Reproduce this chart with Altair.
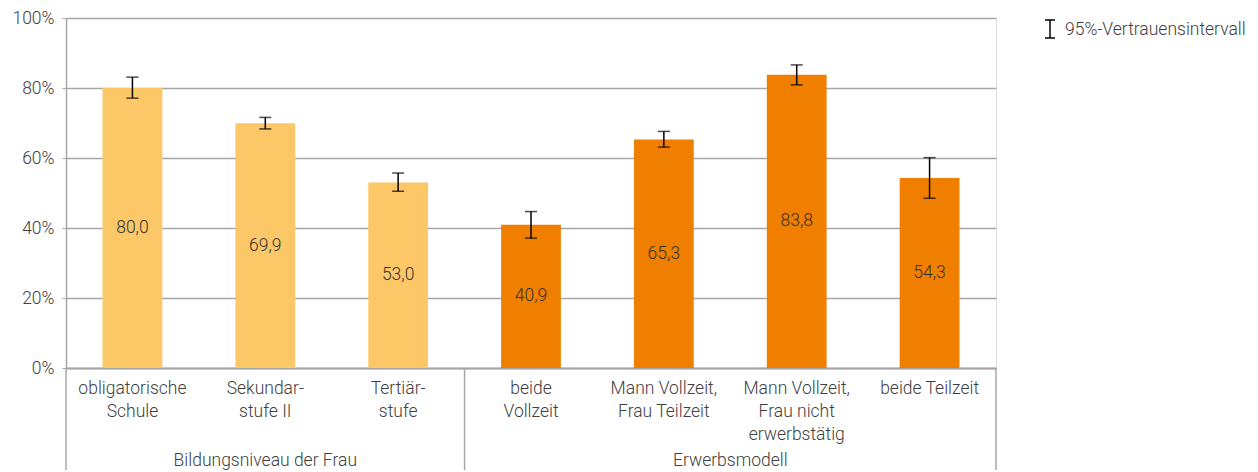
import altair as alt
import pandas as pd

categories = [
    "obligatorische|Schule",
    "Sekundar-|stufe II",
    "Tertiär-|stufe",
    "beide|Vollzeit",
    "Mann Vollzeit,|Frau Teilzeit",
    "Mann Vollzeit,|Frau nicht|erwerbstätig",
    "beide Teilzeit",
]
groups = ["Bildungsniveau der Frau"] * 3 + ["Erwerbsmodell"] * 4
values = [80.0, 69.9, 53.0, 40.9, 65.3, 83.8, 54.3]
ci_low = [77.1, 68.3, 50.5, 37.1, 63.1, 80.9, 48.5]
ci_high = [83.1, 71.6, 55.7, 44.7, 67.6, 86.6, 60.1]
group_names = ["Bildungsniveau der Frau", "Erwerbsmodell"]
group_start = [0, 3]
group_end = [3, 7]
legend_label = "95%-Vertrauensintervall"

FONT = "Roboto"
FS = 17.5
FW = 300
TXT = "#404040"
GRID = "#A6A6A6"

df = pd.DataFrame({
    "cat": categories,
    "group": groups,
    "value": values,
    "lo": ci_low,
    "hi": ci_high,
})
df["label"] = [f"{v:.1f}".replace(".", ",") for v in values]
df["half"] = df["value"] / 2

gdf = pd.DataFrame({"name": group_names, "start": group_start, "end": group_end})
gdf["mid"] = (gdf["start"] + gdf["end"]) / 2
bounds = pd.DataFrame({"pos": [0, 3, 7]})

xband = alt.X(
    "cat:N",
    sort=categories,
    scale=alt.Scale(paddingInner=0.55, paddingOuter=0.275),
    axis=alt.Axis(
        title=None,
        labelExpr="split(datum.value, '|')",
        labelAngle=0,
        labelFont=FONT,
        labelFontSize=FS,
        labelFontWeight=FW,
        labelColor=TXT,
        labelLineHeight=23,
        labelPadding=11,
        ticks=False,
        domainColor=GRID,
        domainWidth=2,
    ),
)
yscale = alt.Scale(domain=[0, 100])

base = alt.Chart(df)

bars = base.mark_bar().encode(
    x=xband,
    y=alt.Y(
        "value:Q",
        scale=yscale,
        axis=alt.Axis(
            title=None,
            values=[0, 20, 40, 60, 80, 100],
            labelExpr="datum.value + '%'",
            labelFont=FONT,
            labelFontSize=FS,
            labelFontWeight=FW,
            labelColor=TXT,
            labelPadding=8,
            tickSize=4,
            tickColor=GRID,
            gridColor=GRID,
            gridWidth=1.5,
            domainColor=GRID,
            domainWidth=1.5,
        ),
    ),
    color=alt.Color(
        "group:N",
        scale=alt.Scale(domain=group_names, range=["#FCC766", "#F07F00"]),
        legend=None,
    ),
)

labels = base.mark_text(font=FONT, fontSize=FS, fontWeight=FW, color="#333333", baseline="middle").encode(
    x=alt.X("cat:N", sort=categories),
    y=alt.Y("half:Q", scale=yscale),
    text="label:N",
)

err = base.mark_rule(color="black", strokeWidth=1.5).encode(
    x=alt.X("cat:N", sort=categories),
    y=alt.Y("lo:Q", scale=yscale),
    y2="hi:Q",
)
cap_hi = base.mark_tick(color="black", thickness=1.5, size=12, orient="horizontal").encode(
    x=alt.X("cat:N", sort=categories),
    y=alt.Y("hi:Q", scale=yscale),
)
cap_lo = base.mark_tick(color="black", thickness=1.5, size=12, orient="horizontal").encode(
    x=alt.X("cat:N", sort=categories),
    y=alt.Y("lo:Q", scale=yscale),
)

main = alt.layer(bars, err, cap_hi, cap_lo, labels)

xq = alt.Scale(domain=[0, 7])
sep = alt.Chart(bounds).mark_rule(color=GRID, strokeWidth=1.5).encode(
    x=alt.X("pos:Q", scale=xq, axis=None),
    y=alt.value(350),
    y2=alt.value(452),
)
gtext = alt.Chart(gdf).mark_text(font=FONT, fontSize=FS, fontWeight=FW, color=TXT, baseline="alphabetic").encode(
    x=alt.X("mid:Q", scale=xq, axis=None),
    y=alt.value(448),
    text="name:N",
)

leg = pd.DataFrame({"t": [legend_label]})
leg_v = alt.Chart(leg).mark_rule(color="black", strokeWidth=1.5).encode(
    x=alt.value(984), y=alt.value(2), y2=alt.value(20)
)
leg_t1 = alt.Chart(leg).mark_rule(color="black", strokeWidth=1.5).encode(
    x=alt.value(979), x2=alt.value(989), y=alt.value(2)
)
leg_t2 = alt.Chart(leg).mark_rule(color="black", strokeWidth=1.5).encode(
    x=alt.value(979), x2=alt.value(989), y=alt.value(20)
)
leg_txt = alt.Chart(leg).mark_text(font=FONT, fontSize=FS, fontWeight=FW, color=TXT, align="left", baseline="middle").encode(
    x=alt.value(999), y=alt.value(12), text="t:N"
)

chart = alt.layer(main, sep, gtext, leg_v, leg_t1, leg_t2, leg_txt).resolve_scale(
    x="independent"
).properties(
    width=930,
    height=350,
    padding={"left": 58, "top": 10, "right": 254, "bottom": 104},
    autosize=alt.AutoSizeParams(type="none"),
).configure_view(
    fill="#EFEFEF", stroke=GRID, strokeWidth=1.5
).configure(background="white")

chart.save("out.html", embed_options={"renderer": "svg", "actions": False})
